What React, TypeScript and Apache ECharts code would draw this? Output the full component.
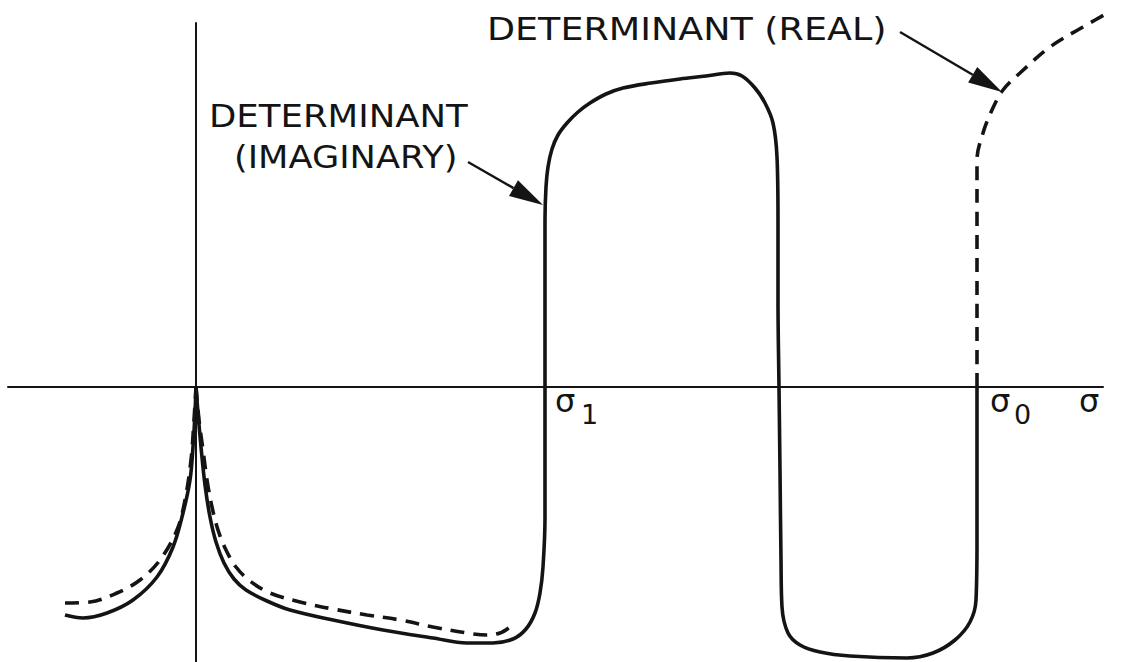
import React, { useEffect, useRef } from "react";
import * as echarts from "echarts";

// Determinant of the dispersion relation versus sigma (arbitrary units).
// Imaginary part (solid), left branch of the cusp at the origin.
const imagLeft: [number, number][] = [
  [-1.31, -2.28], [-1.13, -2.31], [-0.89, -2.26], [-0.63, -2.13], [-0.39, -1.9],
  [-0.23, -1.6], [-0.13, -1.26], [-0.06, -0.93], [-0.03, -0.6], [-0.01, -0.26], [0, 0],
];

// Imaginary part, right branch: through sigma1, up, back down, and up to sigma0.
const imagRight: [number, number][] = [
  [0, 0], [0.02, -0.26], [0.05, -0.6], [0.09, -0.98], [0.14, -1.3], [0.2, -1.55],
  [0.28, -1.76], [0.38, -1.92], [0.5, -2.03], [0.71, -2.14], [0.94, -2.23], [1.37, -2.33],
  [1.87, -2.43], [2.37, -2.51], [2.71, -2.56], [2.97, -2.56], [3.17, -2.52], [3.3, -2.42],
  [3.39, -2.26], [3.44, -2.06], [3.47, -1.8], [3.49, -1.3], [3.49, -0.63], [3.49, 0],
  [3.49, 0.87], [3.49, 1.67], [3.5, 2.0], [3.52, 2.2], [3.56, 2.38], [3.62, 2.52],
  [3.71, 2.64], [3.82, 2.75], [3.94, 2.84], [4.1, 2.93], [4.27, 2.99], [4.55, 3.04],
  [4.84, 3.08], [5.1, 3.11], [5.34, 3.14], [5.46, 3.11], [5.59, 2.99], [5.69, 2.84],
  [5.77, 2.64], [5.81, 2.3], [5.82, 1.67], [5.82, 0.87], [5.83, 0], [5.84, -0.83],
  [5.85, -1.73], [5.86, -2.2], [5.92, -2.46], [6.04, -2.58], [6.24, -2.65], [6.54, -2.69],
  [7.11, -2.71], [7.37, -2.66], [7.59, -2.53], [7.74, -2.35], [7.8, -2.13], [7.81, -1.53],
  [7.81, -0.73], [7.81, 0],
];

// Real part (dashed), left branch of the cusp.
const realLeft: [number, number][] = [
  [-1.31, -2.16], [-1.06, -2.15], [-0.79, -2.06], [-0.56, -1.93], [-0.36, -1.73],
  [-0.19, -1.43], [-0.11, -1.13], [-0.05, -0.73], [-0.02, -0.33], [0, 0],
];

// Real part, right branch below the axis.
const realRight: [number, number][] = [
  [0, 0], [0.03, -0.33], [0.07, -0.63], [0.11, -0.93], [0.16, -1.2], [0.22, -1.43],
  [0.3, -1.63], [0.4, -1.8], [0.54, -1.94], [0.74, -2.06], [1.04, -2.15], [1.37, -2.22],
  [1.71, -2.28], [2.04, -2.33], [2.37, -2.4], [2.71, -2.46], [2.91, -2.48], [3.04, -2.46],
  [3.14, -2.4],
];

// Real part, rising from sigma0.
const realUpper: [number, number][] = [
  [7.81, 0], [7.81, 0.87], [7.81, 1.67], [7.81, 2.27], [7.87, 2.54], [7.96, 2.77],
  [8.07, 2.97], [8.24, 3.14], [8.54, 3.4], [8.87, 3.6], [9.17, 3.77],
];

// Marked points on the sigma axis.
const sigmaMarks = [
  { sub: "1", value: 3.49 },
  { sub: "0", value: 7.81 },
];

const INK = "#141414";
const FONT = "'DejaVu Sans', 'Liberation Sans', sans-serif";

function arrow(x1: number, y1: number, x2: number, y2: number) {
  const ang = Math.atan2(y2 - y1, x2 - x1);
  const len = 34;
  const hw = 9;
  const bx = x2 - len * Math.cos(ang);
  const by = y2 - len * Math.sin(ang);
  const nx = -Math.sin(ang);
  const ny = Math.cos(ang);
  return [
    {
      type: "line",
      shape: { x1, y1, x2: bx, y2: by },
      style: { stroke: INK, lineWidth: 2.4 },
      silent: true,
    },
    {
      type: "polygon",
      shape: {
        points: [
          [x2, y2],
          [bx + nx * hw, by + ny * hw],
          [bx - nx * hw, by - ny * hw],
        ],
      },
      style: { fill: INK },
      silent: true,
    },
  ];
}

function lineSeries(name: string, data: [number, number][], dashed: boolean) {
  return {
    name,
    type: "line",
    data,
    smooth: 0.35,
    symbol: "none",
    clip: false,
    lineStyle: {
      color: INK,
      width: 3.6,
      type: dashed ? [14, 9] : "solid",
      cap: "butt",
    },
    z: 3,
  };
}

// Lettering is drawn slightly widened, like stencil capitals.
function label(text: string, left: number, top: number, stretch: number) {
  return {
    type: "text",
    left,
    top,
    scaleX: stretch,
    style: { text, font: `32px ${FONT}`, fill: INK },
    silent: true,
  };
}

export default function App() {
  const ref = useRef<HTMLDivElement>(null);

  useEffect(() => {
    if (!ref.current) return;
    const chart = echarts.init(ref.current, undefined, { renderer: "svg" });
    chart.setOption({
      animation: false,
      backgroundColor: "#ffffff",
      grid: { left: 8, right: 19, top: 23, bottom: 0 },
      xAxis: {
        type: "value",
        min: -1.88,
        max: 9.07,
        axisLine: { onZero: true, lineStyle: { color: INK, width: 2 } },
        axisTick: { show: false },
        axisLabel: { show: false },
        splitLine: { show: false },
      },
      yAxis: {
        type: "value",
        min: -2.75,
        max: 3.64,
        axisLine: { show: true, onZero: true, lineStyle: { color: INK, width: 2 } },
        axisTick: { show: false },
        axisLabel: { show: false },
        splitLine: { show: false },
      },
      series: [
        lineSeries("Determinant (imaginary)", imagLeft, false),
        lineSeries("Determinant (imaginary) ", imagRight, false),
        lineSeries("Determinant (real)", realLeft, true),
        lineSeries("Determinant (real) ", realRight, true),
        lineSeries("Determinant (real)  ", realUpper, true),
      ],
    });

    const sigmaLabels: any[] = [];
    sigmaMarks.forEach((m) => {
      const [px, py] = chart.convertToPixel({ xAxisIndex: 0, yAxisIndex: 0 }, [m.value, 0]);
      sigmaLabels.push({
        type: "text",
        left: px + (m.sub === "1" ? 10 : 13),
        top: py - 2,
        style: { text: "σ", font: `32px ${FONT}`, fill: INK },
        silent: true,
      });
      sigmaLabels.push({
        type: "text",
        left: px + (m.sub === "1" ? 36 : 37),
        top: py + 14,
        style: { text: m.sub, font: `27px ${FONT}`, fill: INK },
        silent: true,
      });
    });
    const [, axisY] = chart.convertToPixel({ xAxisIndex: 0, yAxisIndex: 0 }, [0, 0]);

    chart.setOption({
      graphic: [
        ...sigmaLabels,
        {
          type: "text",
          left: 1079,
          top: axisY - 2,
          style: { text: "σ", font: `32px ${FONT}`, fill: INK },
          silent: true,
        },
        label("DETERMINANT (REAL)", 487, 13, 1.14),
        label("DETERMINANT", 209, 100, 1.11),
        label("(IMAGINARY)", 234, 141, 1.1),
        ...arrow(468, 162, 543, 205),
        ...arrow(900, 32, 1002, 92),
      ],
    });

    return () => chart.dispose();
  }, []);

  return (
    <div
      ref={ref}
      style={{ position: "fixed", left: 0, top: 0, width: 1122, height: 662, background: "#fff" }}
    />
  );
}
